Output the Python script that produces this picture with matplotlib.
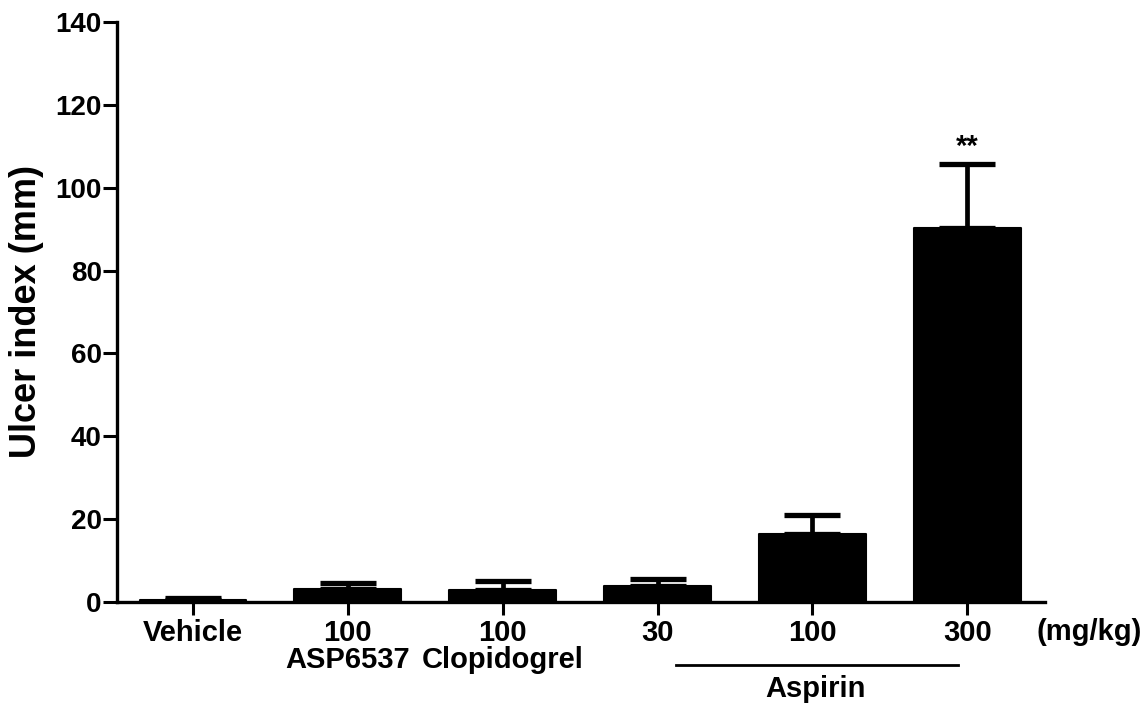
import matplotlib
matplotlib.use("Agg")
import matplotlib.pyplot as plt
import numpy as np

# ── data ────────────────────────────────────────────────────────────────────
doses   = ["Vehicle", "100", "100", "30", "100", "300"]
drugs   = ["", "ASP6537", "Clopidogrel", "", "", ""]
means   = [0.5, 3.2, 2.8, 3.9, 16.5, 90.3]
sems    = [0.5, 1.3, 2.3, 1.6, 4.6, 15.3]
signif  = ["", "", "", "", "", "**"]
yticks  = [0, 20, 40, 60, 80, 100, 120, 140]

plt.rcParams["font.family"] = ["Liberation Sans", "DejaVu Sans"]
plt.rcParams["font.weight"] = "bold"

fig = plt.figure(figsize=(11.48, 7.07), dpi=100)
ax = fig.add_axes([0.102, 0.1485, 0.808, 0.8205])

x = np.arange(len(means))
ax.bar(x, means, width=0.69, color="black", edgecolor="black",
       linewidth=1.5, joinstyle="round", zorder=2)
lo = np.zeros(len(sems))
eb = ax.errorbar(x, means, yerr=[lo, sems], fmt="none", ecolor="black",
                 elinewidth=3.4, capsize=20, capthick=3.8, zorder=1)
for cap in eb[1]:
    cap.set_solid_capstyle("round")

for xi, m, s, t in zip(x, means, sems, signif):
    if t:
        ax.text(xi, m + s + 4.3, t, ha="center", va="center",
                fontsize=21, fontweight="bold")

ax.set_xlim(-0.49, 5.5)
ax.set_ylim(0, 140)
ax.set_yticks(yticks)
ax.set_xticks(x)
ax.set_xticklabels(doses)
ax.tick_params(axis="y", width=2.2, length=10, labelsize=20, pad=1)
ax.tick_params(axis="x", width=2.2, length=9, labelsize=21, pad=3)
for lab in ax.get_xticklabels() + ax.get_yticklabels():
    lab.set_fontweight("bold")

for side in ["top", "right"]:
    ax.spines[side].set_visible(False)
for side in ["left", "bottom"]:
    ax.spines[side].set_linewidth(2.4)

ax.set_ylabel("Ulcer index (mm)", fontsize=26, fontweight="bold", labelpad=8)

# second row of labels (drug names)
trans = ax.get_xaxis_transform()
for xi, d in zip(x, drugs):
    if d:
        ax.text(xi, -0.100, d, transform=trans, ha="center", va="center",
                fontsize=21, fontweight="bold")

ax.text(5.785, -0.052, "(mg/kg)", transform=trans, ha="center", va="center",
        fontsize=21, fontweight="bold", clip_on=False)

# Aspirin group bracket
ax.plot([3.12, 4.94], [-0.109, -0.109], transform=trans, color="black",
        lw=2.0, clip_on=False)
ax.text(4.02, -0.150, "Aspirin", transform=trans, ha="center", va="center",
        fontsize=21, fontweight="bold")

fig.savefig("out.png", dpi=100)
